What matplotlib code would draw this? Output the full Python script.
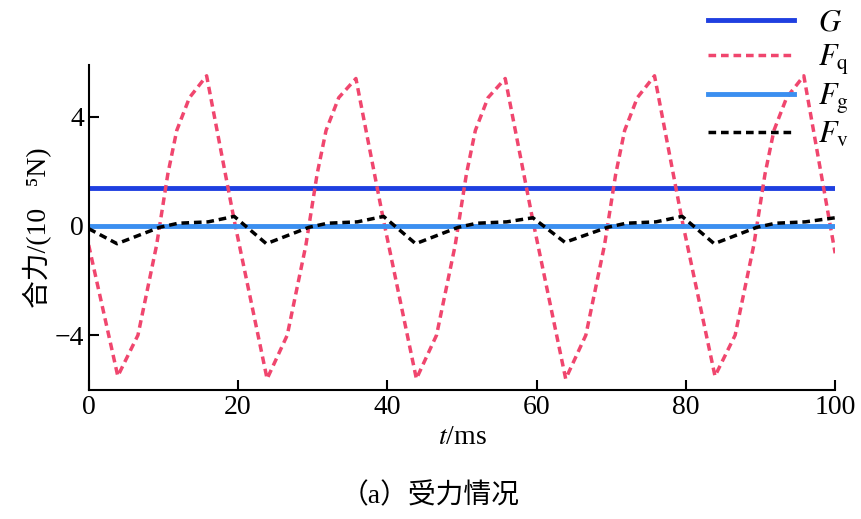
import numpy as np
import matplotlib
matplotlib.use("Agg")
import matplotlib.pyplot as plt

plt.rcParams["font.family"] = ["Liberation Serif", "Noto Sans CJK SC"]
plt.rcParams["mathtext.fontset"] = "stix"

# Data (t in ms, forces in 1e-5 N)
t_q = [0, 3.9, 6.6, 9.1, 10.6, 11.8, 13.5, 15.8, 19.5,
       23.9, 26.6, 29.1, 30.6, 31.8, 33.5, 35.8, 39.5,
       43.9, 46.6, 49.1, 50.6, 51.8, 53.5, 55.8, 59.5,
       63.9, 66.6, 69.1, 70.6, 71.8, 73.5, 75.8, 79.5,
       83.9, 86.6, 89.1, 90.6, 91.8, 93.5, 95.8, 100]
f_q = [-0.7, -5.5, -4.0, -0.7, 1.9, 3.5, 4.7, 5.5, 0.2,
       -5.6, -4.0, -0.7, 1.9, 3.5, 4.7, 5.4, 0.2,
       -5.6, -4.0, -0.7, 1.9, 3.5, 4.7, 5.4, 0.2,
       -5.6, -4.0, -0.7, 1.9, 3.5, 4.7, 5.5, 0.2,
       -5.5, -4.0, -0.7, 1.9, 3.5, 4.7, 5.5, -1.0]

t_v = [0, 3.8, 9.5, 12, 16, 19.5,
       23.8, 29.5, 32, 36, 39.5,
       43.8, 49.5, 52, 56, 59.5,
       63.8, 69.5, 72, 76, 79.5,
       83.8, 89.5, 92, 96, 100]
f_v = [-0.1, -0.65, -0.05, 0.1, 0.15, 0.35,
       -0.65, -0.05, 0.1, 0.15, 0.35,
       -0.65, -0.05, 0.1, 0.15, 0.3,
       -0.6, -0.05, 0.1, 0.15, 0.35,
       -0.65, -0.05, 0.1, 0.15, 0.3]

G_val = 1.4
Fg_val = 0.0

fig = plt.figure(figsize=(8.61, 5.19), dpi=100)
ax = fig.add_axes([0.103, 0.249, 0.867, 0.626])

ax.axhline(G_val, color="#1f3fe0", linewidth=3.5, label="$G$")
ax.plot(t_q, f_q, color="#f0466e", linestyle=(0, (2.2, 1.4)), linewidth=2.5, label="$F_\\mathrm{q}$")
ax.axhline(Fg_val, color="#3b8ff0", linewidth=3.5, label="$F_\\mathrm{g}$")
ax.plot(t_v, f_v, color="black", linestyle=(0, (2.2, 1.4)), linewidth=2.5, label="$F_\\mathrm{v}$")

ax.set_xlim(0, 100)
ax.set_ylim(-6, 5.9)
ax.set_xticks([0, 20, 40, 60, 80, 100])
ax.set_yticks([-4, 0, 4])
ax.spines["top"].set_visible(False)
ax.spines["right"].set_visible(False)
ax.spines["left"].set_linewidth(1.5)
ax.spines["bottom"].set_linewidth(1.5)
ax.tick_params(direction="in", length=7, width=1.5, labelsize=20)

ax.set_xlabel("$t$/ms", fontsize=20, labelpad=4)
ax.set_ylabel("合力/(10⁻⁵N)", fontsize=20, labelpad=2)

leg = ax.legend(loc="upper right", bbox_to_anchor=(1.035, 1.21), frameon=False,
                fontsize=22, handlelength=2.8, labelspacing=0.15, borderaxespad=0)

fig.text(0.5, 0.03, "（a）受力情况", ha="center", fontsize=20)

fig.savefig("out.png", dpi=100)
